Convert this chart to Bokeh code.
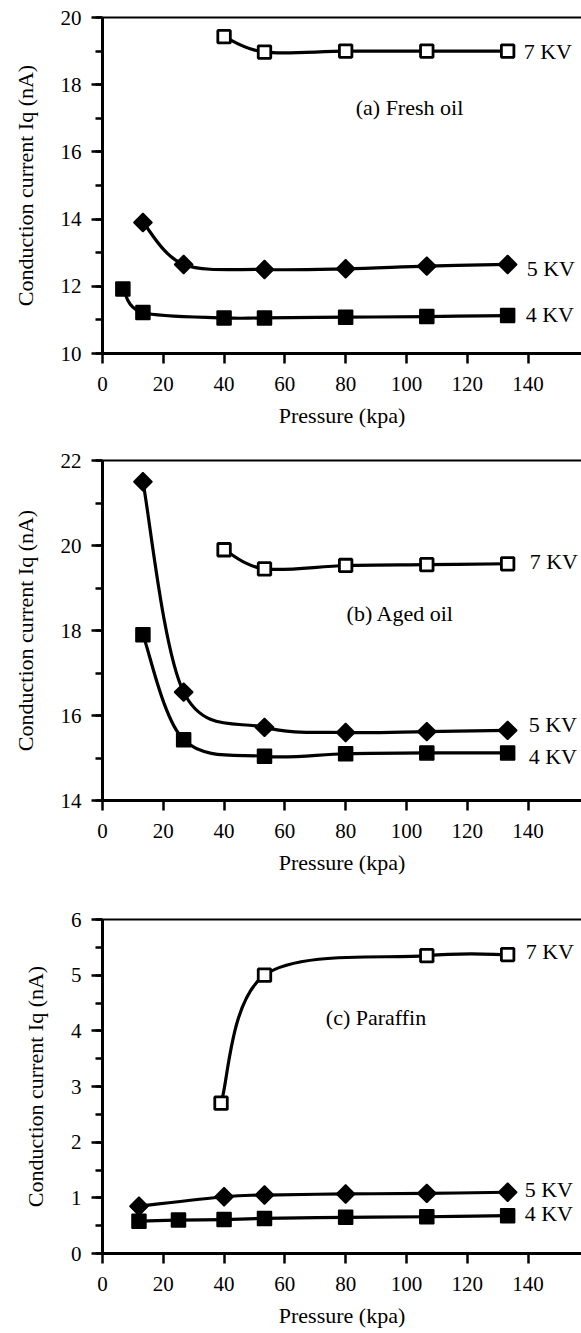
import numpy as np
from bokeh.plotting import figure
from bokeh.models import (Range1d, LinearAxis, FixedTicker, SingleIntervalTicker,
                          ColumnDataSource)
from bokeh.layouts import column
from bokeh.embed import file_html
from bokeh.resources import INLINE
from bokeh.core.properties import value

# ---------------- data ----------------
# (a) Fresh oil
a_7kv_x = [40, 53.3, 80, 106.7, 133.3]
a_7kv_y = [19.43, 18.97, 19.0, 19.0, 19.0]
a_5kv_x = [13.3, 26.7, 53.3, 80, 106.7, 133.3]
a_5kv_y = [13.9, 12.65, 12.5, 12.52, 12.6, 12.65]
a_4kv_x = [6.7, 13.3, 40, 53.3, 80, 106.7, 133.3]
a_4kv_y = [11.92, 11.22, 11.06, 11.06, 11.08, 11.1, 11.13]

# (b) Aged oil
b_7kv_x = [40, 53.3, 80, 106.7, 133.3]
b_7kv_y = [19.9, 19.45, 19.53, 19.55, 19.57]
b_5kv_x = [13.3, 26.7, 53.3, 80, 106.7, 133.3]
b_5kv_y = [21.5, 16.55, 15.72, 15.6, 15.62, 15.65]
b_4kv_x = [13.3, 26.7, 53.3, 80, 106.7, 133.3]
b_4kv_y = [17.9, 15.43, 15.04, 15.1, 15.12, 15.12]

# (c) Paraffin
c_7kv_x = [39, 53.3, 106.7, 133.3]
c_7kv_y = [2.7, 5.0, 5.35, 5.37]
c_5kv_x = [12, 40, 53.3, 80, 106.7, 133.3]
c_5kv_y = [0.85, 1.02, 1.05, 1.07, 1.08, 1.1]
c_4kv_x = [12, 25, 40, 53.3, 80, 106.7, 133.3]
c_4kv_y = [0.58, 0.6, 0.61, 0.63, 0.65, 0.66, 0.68]

series_labels = ["7 KV", "5 KV", "4 KV"]
panel_titles = ["(a) Fresh oil", "(b) Aged oil", "(c) Paraffin"]
y_ranges = [(10, 20), (14, 22), (0, 6)]
y_intervals = [2, 2, 1]
x_ticks_interval = 20
x_label = "Pressure (kpa)"
y_label = "Conduction current Iq (nA)"

FONT = "Liberation Serif"
AXIS_FONT = "'Liberation Serif', 'Times New Roman', serif"


def catmull_bezier(xs, ys):
    n = len(xs)
    P = list(zip(xs, ys))
    out = {k: [] for k in ["x0", "y0", "x1", "y1", "cx0", "cy0", "cx1", "cy1"]}
    for i in range(n - 1):
        p0 = P[i - 1] if i > 0 else P[i]
        p1 = P[i]
        p2 = P[i + 1]
        p3 = P[i + 2] if i + 2 < n else P[i + 1]
        out["x0"].append(p1[0]); out["y0"].append(p1[1])
        out["x1"].append(p2[0]); out["y1"].append(p2[1])
        out["cx0"].append(p1[0] + (p2[0] - p0[0]) / 6.0)
        out["cy0"].append(p1[1] + (p2[1] - p0[1]) / 6.0)
        out["cx1"].append(p2[0] - (p3[0] - p1[0]) / 6.0)
        out["cy1"].append(p2[1] - (p3[1] - p1[1]) / 6.0)
    return out


def make_panel(idx, height, b_top, b_bottom, s7, s5, s4, title_pos, lab_offsets):
    p = figure(width=581, height=height, output_backend="svg", toolbar_location=None,
               x_range=Range1d(0, 157.6), y_range=Range1d(*y_ranges[idx]),
               min_border_left=102, min_border_right=0,
               min_border_top=b_top, min_border_bottom=b_bottom,
               x_axis_label=x_label, y_axis_label=y_label)
    p.outline_line_color = None
    p.grid.visible = False
    p.background_fill_color = "white"
    p.border_fill_color = "white"

    xa = p.xaxis[0]
    xa.ticker = SingleIntervalTicker(interval=x_ticks_interval, num_minor_ticks=0)
    ya = p.yaxis[0]
    ya.ticker = SingleIntervalTicker(interval=y_intervals[idx], num_minor_ticks=2)
    for ax in (xa, ya):
        ax.axis_line_width = 3
        ax.axis_line_color = "black"
        ax.major_tick_line_width = 2.5
        ax.minor_tick_line_width = 2.5
        ax.major_tick_in = 0
        ax.minor_tick_in = 0
        ax.major_label_text_font = AXIS_FONT
        ax.major_label_text_font_size = "21px"
        ax.major_label_text_color = "black"
        ax.major_label_text_font_style = "normal"
        ax.axis_label_text_font = AXIS_FONT
        ax.axis_label_text_font_size = "22px"
        ax.axis_label_text_font_style = "normal"
        ax.axis_label_text_color = "black"
    xa.major_tick_out = 10
    xa.minor_tick_out = 0
    xa.major_label_standoff = 13
    xa.axis_label_standoff = 9
    ya.major_tick_out = 11
    ya.minor_tick_out = 7
    ya.major_label_standoff = 10
    ya.axis_label_standoff = 20

    top = LinearAxis(ticker=FixedTicker(ticks=[]), axis_line_width=2,
                     major_tick_out=0, minor_tick_out=0, major_tick_in=0, minor_tick_in=0,
                     major_label_standoff=0, major_label_text_font_size="0px")
    p.add_layout(top, "above")

    (x7, y7), (x5, y5), (x4, y4) = s7, s5, s4

    for xs, ys in ((x7, y7), (x5, y5), (x4, y4)):
        src = ColumnDataSource(catmull_bezier(xs, ys))
        p.bezier(x0="x0", y0="y0", x1="x1", y1="y1", cx0="cx0", cy0="cy0",
                 cx1="cx1", cy1="cy1", source=src, line_color="black", line_width=3.2)

    p.scatter(x4, y4, marker="square", size=14, fill_color="black",
              line_color="black", line_width=1.5)
    p.scatter(x5, y5, marker="square", size=13, angle=np.pi / 4, fill_color="black",
              line_color="black", line_width=1.5)
    p.scatter(x7, y7, marker="square", size=12.5, fill_color="white",
              line_color="black", line_width=2.8)

    lab = ColumnDataSource(dict(
        x=[x7[-1], x5[-1], x4[-1]], y=[y7[-1], y5[-1], y4[-1]],
        t=series_labels, xo=[o[0] for o in lab_offsets], yo=[o[1] for o in lab_offsets]))
    p.text(x="x", y="y", text="t", x_offset="xo", y_offset="yo", source=lab,
           text_font=value(FONT), text_font_size="22px", text_baseline="middle",
           text_align="left", text_color="black")

    p.text(x=[title_pos[0]], y=[title_pos[1]], text=[panel_titles[idx]],
           text_font=value(FONT), text_font_size="22px", text_baseline="middle",
           text_align="center", text_color="black")
    return p


pa = make_panel(0, 440, 17, 87, (a_7kv_x, a_7kv_y), (a_5kv_x, a_5kv_y), (a_4kv_x, a_4kv_y),
                (101, 17.33), [(16, 0), (19, 4), (18, -1)])
pb = make_panel(1, 460, 20, 100, (b_7kv_x, b_7kv_y), (b_5kv_x, b_5kv_y), (b_4kv_x, b_4kv_y),
                (98, 18.4), [(22, -2), (21, -6), (21, 4)])
pc = make_panel(2, 430, 19, 74, (c_7kv_x, c_7kv_y), (c_5kv_x, c_5kv_y), (c_4kv_x, c_4kv_y),
                (90, 4.24), [(18, -3), (17, -3), (17, -2)])

layout = column(pa, pb, pc, spacing=0)
open("out.html", "w").write(file_html(layout, INLINE))
